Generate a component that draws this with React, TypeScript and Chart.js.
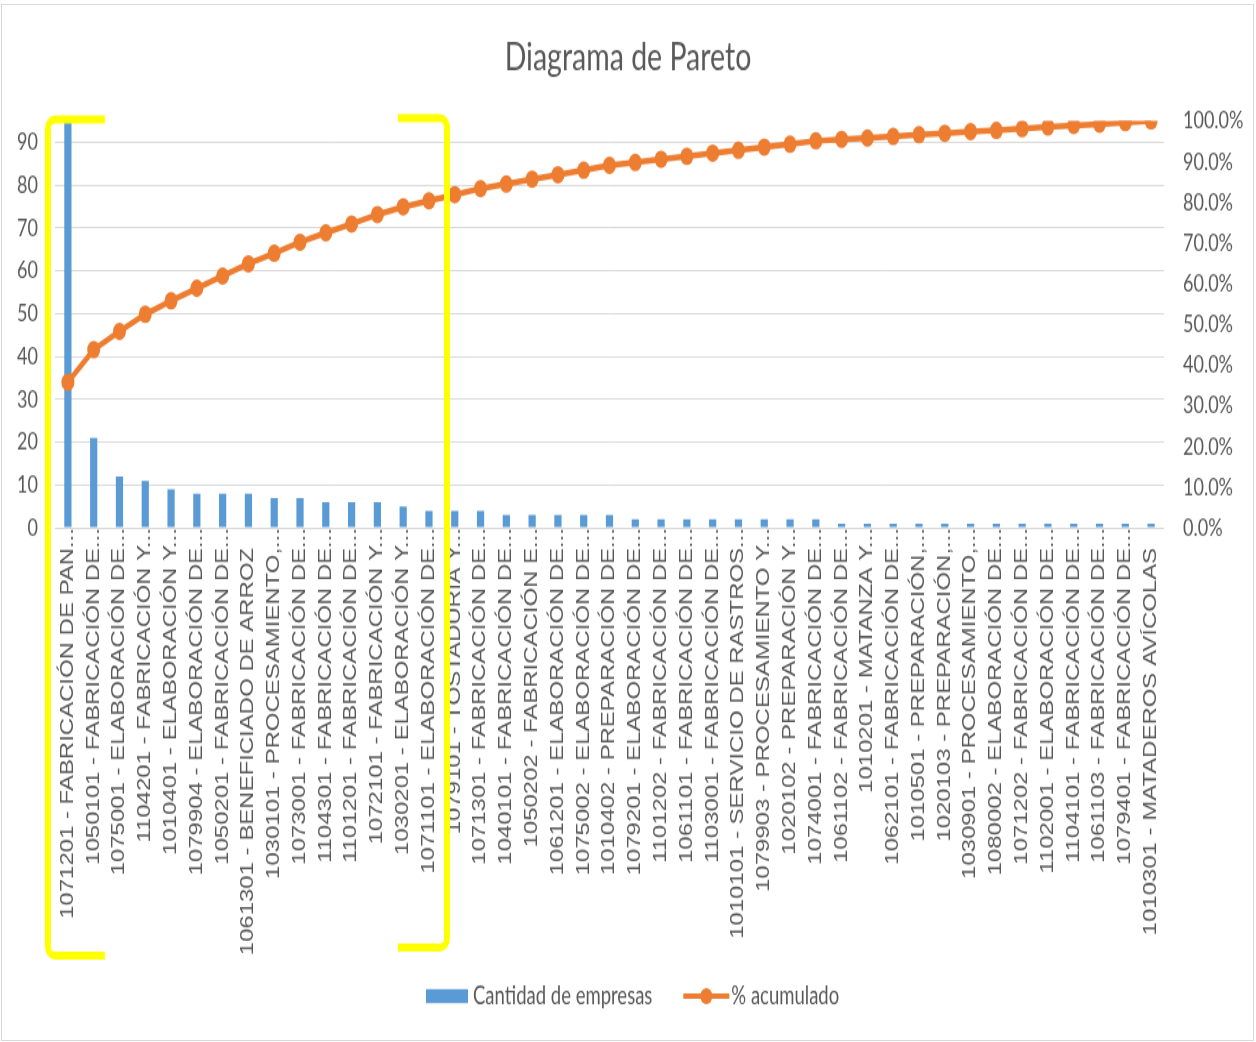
import React, { useEffect, useRef } from "react";
import { Chart, registerables } from "chart.js";

Chart.register(...registerables);

// Industry codes (CIIU) with their short descriptions, sorted by number of companies
const categories = [
  "1071201 - FABRICACIÓN DE PAN...",
  "1050101 - FABRICACIÓN DE...",
  "1075001 - ELABORACIÓN DE...",
  "1104201 - FABRICACIÓN Y...",
  "1010401 - ELABORACIÓN Y...",
  "1079904 - ELABORACIÓN DE...",
  "1050201 - FABRICACIÓN DE...",
  "1061301 - BENEFICIADO DE ARROZ",
  "1030101 - PROCESAMIENTO,...",
  "1073001 - FABRICACIÓN DE...",
  "1104301 - FABRICACIÓN DE...",
  "1101201 - FABRICACIÓN DE...",
  "1072101 - FABRICACIÓN Y...",
  "1030201 - ELABORACIÓN Y...",
  "1071101 - ELABORACIÓN DE...",
  "1079101 - TOSTADURÍA Y...",
  "1071301 - FABRICACIÓN DE...",
  "1040101 - FABRICACIÓN DE...",
  "1050202 - FABRICACIÓN E...",
  "1061201 - ELABORACIÓN DE...",
  "1075002 - ELABORACIÓN DE...",
  "1010402 - PREPARACIÓN DE...",
  "1079201 - ELABORACIÓN DE...",
  "1101202 - FABRICACIÓN DE...",
  "1061101 - FABRICACIÓN DE...",
  "1103001 - FABRICACIÓN DE...",
  "1010101 - SERVICIO DE RASTROS...",
  "1079903 - PROCESAMIENTO Y...",
  "1020102 - PREPARACIÓN Y...",
  "1074001 - FABRICACIÓN DE...",
  "1061102 - FABRICACIÓN DE...",
  "1010201 - MATANZA Y...",
  "1062101 - FABRICACIÓN DE...",
  "1010501 - PREPARACIÓN,...",
  "1020103 - PREPARACIÓN,...",
  "1030901 - PROCESAMIENTO,...",
  "1080002 - ELABORACIÓN DE...",
  "1071202 - FABRICACIÓN DE...",
  "1102001 - ELABORACIÓN DE...",
  "1104101 - FABRICACIÓN DE...",
  "1061103 - FABRICACIÓN DE...",
  "1079401 - FABRICACIÓN DE...",
  "1010301 - MATADEROS AVÍCOLAS",
];

// Number of companies per activity
const companyCounts = [
  95, 21, 12, 11, 9, 8, 8, 8, 7, 7, 6, 6, 6, 5, 4,
  4, 4, 3, 3, 3, 3, 3, 2, 2, 2, 2, 2, 2, 2, 2,
  1, 1, 1, 1, 1, 1, 1, 1, 1, 1, 1, 1, 1,
];

// Cumulative share of companies (%)
const cumulativePct = [
  35.8, 43.8, 48.3, 52.5, 55.8, 58.9, 61.9, 64.9, 67.5, 70.2, 72.5, 74.7, 77.0, 78.9, 80.4,
  81.9, 83.4, 84.5, 85.7, 86.8, 87.9, 89.1, 89.8, 90.6, 91.3, 92.1, 92.8, 93.6, 94.3, 95.1,
  95.5, 95.8, 96.2, 96.6, 97.0, 97.4, 97.7, 98.1, 98.5, 98.9, 99.2, 99.6, 100.0,
];

const seriesNames = ["Cantidad de empresas", "% acumulado"];
const chartTitle = "Diagrama de Pareto";

// Axis ranges
const countAxisMax = 95;
const countAxisStep = 10;
const pctAxisMax = 100;
const pctAxisStep = 10;

// The first block of activities that makes up ~80% of companies
const highlightFirst = 0;
const highlightLast = 14;

const BLUE = "#5B9BD5";
const ORANGE = "#ED7D31";
const TEXT = "#595959";
const GRID = "#D9D9D9";
const YELLOW = "#FFFF00";

// Drawing surface is laid out at a reduced height and shown stretched vertically
const DISPLAY_W = 1256;
const DISPLAY_H = 1042;
const STRETCH = 1.35;
const LOGICAL_H = Math.round(DISPLAY_H / STRETCH);

const PLOT_BOTTOM = 391.1;
const BOTTOM_PAD = 60;

// Untruncated labels keep the room an ellipsis would take, so all texts share one baseline
const ELLIPSIS_ROOM = "   ";

const overlayPlugin = {
  id: "paretoOverlay",
  afterDraw(chart: any) {
    const ctx = chart.ctx as CanvasRenderingContext2D;
    const x = chart.scales.x;
    const area = chart.chartArea;
    const H = chart.height;

    // Custom legend: box for bars, line-with-marker for cumulative series
    ctx.save();
    const ly = H - 34;
    ctx.font = "18.5px Lato";
    ctx.textBaseline = "middle";
    ctx.textAlign = "left";
    let lx = 426;
    ctx.fillStyle = BLUE;
    ctx.fillRect(lx, ly - 5.2, 42, 10.4);
    lx += 47;
    ctx.fillStyle = TEXT;
    ctx.fillText(seriesNames[0], lx, ly);
    lx += ctx.measureText(seriesNames[0]).width + 31;
    ctx.strokeStyle = ORANGE;
    ctx.lineWidth = 4;
    ctx.beginPath();
    ctx.moveTo(lx, ly);
    ctx.lineTo(lx + 46, ly);
    ctx.stroke();
    ctx.fillStyle = ORANGE;
    ctx.beginPath();
    ctx.arc(lx + 23, ly, 6, 0, Math.PI * 2);
    ctx.fill();
    lx += 48;
    ctx.fillStyle = TEXT;
    ctx.fillText(seriesNames[1], lx, ly);
    ctx.restore();

    // Brackets around the highlighted group of categories
    const drawBracket = (bx: number, yTop: number, yBot: number, arm: number, dir: number) => {
      const r = 7;
      ctx.beginPath();
      ctx.moveTo(bx + dir * arm, yTop);
      ctx.arcTo(bx, yTop, bx, yBot, r);
      ctx.arcTo(bx, yBot, bx + dir * arm, yBot, r);
      ctx.lineTo(bx + dir * arm, yBot);
      ctx.stroke();
    };
    ctx.save();
    ctx.strokeStyle = YELLOW;
    ctx.lineWidth = 6;
    ctx.lineCap = "butt";
    const leftX = x.getPixelForValue(highlightFirst) - 20;
    const rightX = x.getPixelForValue(highlightLast) + 18;
    drawBracket(leftX, area.top - 1, H - 64, 57, 1);
    drawBracket(rightX, area.top - 2, H - 70, 49, -1);
    ctx.restore();
  },
};

export default function App() {
  const canvasRef = useRef<HTMLCanvasElement>(null);

  useEffect(() => {
    const canvas = canvasRef.current;
    if (!canvas) return;
    const chart = new Chart(canvas, {
      type: "bar",
      data: {
        labels: categories,
        datasets: [
          {
            type: "line",
            label: seriesNames[1],
            data: cumulativePct,
            yAxisID: "yPct",
            borderColor: ORANGE,
            backgroundColor: ORANGE,
            borderWidth: 4.5,
            pointRadius: 6.5,
            pointHoverRadius: 6.5,
            pointBackgroundColor: ORANGE,
            pointBorderWidth: 0,
            tension: 0,
            order: 0,
          } as any,
          {
            type: "bar",
            label: seriesNames[0],
            data: companyCounts,
            yAxisID: "yCount",
            backgroundColor: BLUE,
            categoryPercentage: 1,
            barPercentage: 0.28,
            order: 1,
          },
        ],
      },
      options: {
        responsive: false,
        animation: false,
        devicePixelRatio: 1,
        events: [],
        layout: { padding: { left: 0, right: 0, top: 0, bottom: BOTTOM_PAD } },
        plugins: {
          legend: { display: false },
          tooltip: { enabled: false },
          title: {
            display: true,
            text: chartTitle,
            color: TEXT,
            font: { family: "Lato", size: 28.5, weight: "normal", lineHeight: 1.2 },
            padding: { top: 26, bottom: 29.4 },
          },
        },
        scales: {
          x: {
            type: "category",
            offset: true,
            grid: { display: false },
            border: { display: false },
            ticks: {
              autoSkip: false,
              minRotation: 90,
              maxRotation: 90,
              padding: -8,
              color: TEXT,
              font: { family: "Liberation Sans", size: 17.75 },
              callback: (_v: any, i: number) => {
                const label = categories[i];
                return label.endsWith("...") ? label : label + ELLIPSIS_ROOM;
              },
            },
            afterFit(scale: any) {
              scale.height = LOGICAL_H - BOTTOM_PAD - PLOT_BOTTOM;
            },
          },
          yCount: {
            type: "linear",
            position: "left",
            min: 0,
            max: countAxisMax,
            grid: { color: GRID, lineWidth: 1, drawTicks: false },
            border: { display: false },
            ticks: {
              stepSize: countAxisStep,
              includeBounds: false,
              padding: 17,
              color: TEXT,
              font: { family: "Lato", size: 18 },
            },
            afterFit(scale: any) {
              scale.width = 55;
            },
          },
          yPct: {
            type: "linear",
            position: "right",
            min: 0,
            max: pctAxisMax,
            grid: { drawOnChartArea: false, drawTicks: false },
            border: { display: false },
            ticks: {
              stepSize: pctAxisStep,
              padding: 19,
              color: TEXT,
              font: { family: "Lato", size: 18 },
              callback: (v: any) => Number(v).toFixed(1) + "%",
            },
            afterFit(scale: any) {
              scale.width = DISPLAY_W - 1164;
            },
          },
        },
      },
      plugins: [overlayPlugin],
    });
    return () => chart.destroy();
  }, []);

  return (
    <div
      style={{
        position: "fixed",
        left: 0,
        top: 0,
        width: DISPLAY_W,
        height: DISPLAY_H,
        background: "#ffffff",
        overflow: "hidden",
      }}
    >
      <canvas
        ref={canvasRef}
        width={DISPLAY_W}
        height={LOGICAL_H}
        style={{ width: `${DISPLAY_W}px`, height: `${DISPLAY_H}px`, display: "block" }}
      />
      <div
        style={{
          position: "absolute",
          left: 1,
          top: 4,
          width: 1251,
          height: 1035,
          border: "1px solid #D9D9D9",
          pointerEvents: "none",
        }}
      />
    </div>
  );
}
